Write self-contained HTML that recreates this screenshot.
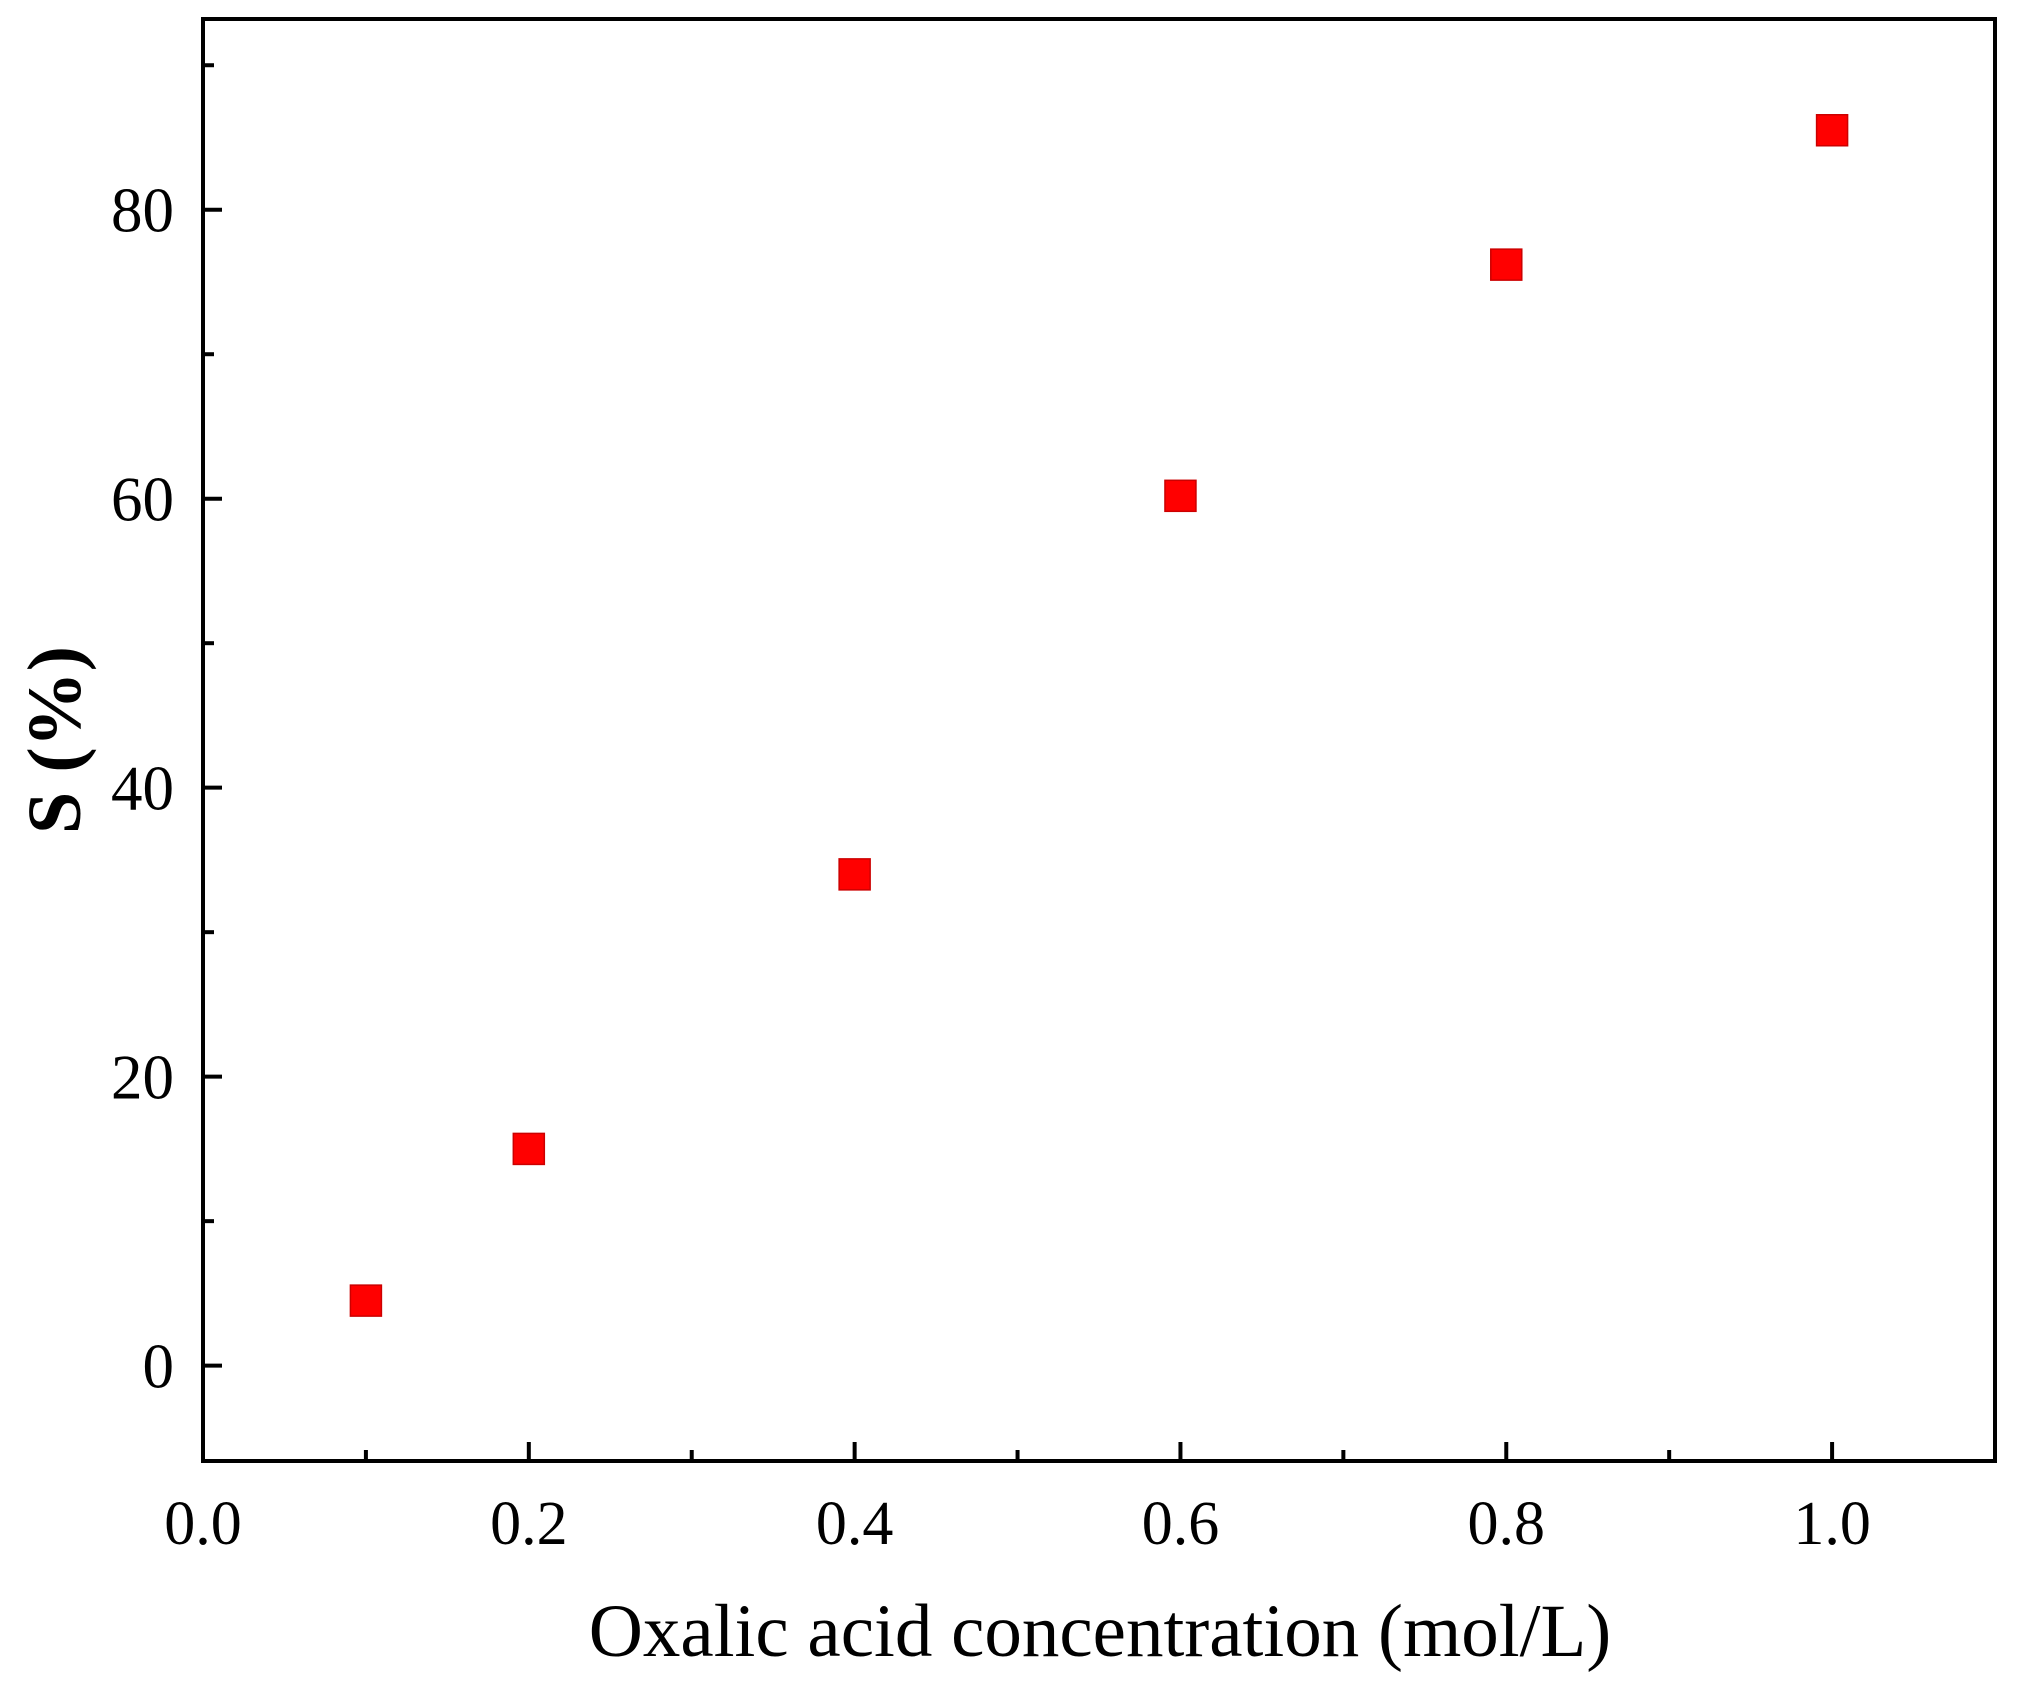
<!DOCTYPE html>
<html><head><meta charset="utf-8"><style>
html,body{margin:0;padding:0;background:#fff;}
svg{display:block;}
text{font-family:"Liberation Serif",serif;fill:#000;}
</style></head><body>
<svg id="chart" width="2018" height="1689" viewBox="0 0 2018 1689" xmlns="http://www.w3.org/2000/svg">
<g id="axes"></g>
<g id="marks"></g>
<text x="1100" y="1656" font-size="75" text-anchor="middle">Oxalic acid concentration (mol/L)</text>
<text transform="translate(80,740) rotate(-90)" font-size="76" font-weight="bold" text-anchor="middle">S (%)</text>
</svg>
<script>
const xValues = [0.1, 0.2, 0.4, 0.6, 0.8, 1.0];
const yValues = [4.5, 15.0, 34.0, 60.2, 76.2, 85.5];
const xTicks = [0, 0.2, 0.4, 0.6, 0.8, 1.0];
const xTickLabels = ["0.0", "0.2", "0.4", "0.6", "0.8", "1.0"];
const yTicks = [0, 20, 40, 60, 80];
const yTickLabels = ["0", "20", "40", "60", "80"];

const L=203,R=1995,T=19,B=1461;
const xMin=0,xMax=1.1,yMin=-6.6,yMax=93.2;
const sx=v=>L+(v-xMin)/(xMax-xMin)*(R-L);
const sy=v=>B-(v-yMin)/(yMax-yMin)*(B-T);
const NS="http://www.w3.org/2000/svg";
const axes=document.getElementById('axes');
const marks=document.getElementById('marks');
function mk(tag,attrs,parent){const e=document.createElementNS(NS,tag);for(const k in attrs)e.setAttribute(k,attrs[k]);parent.appendChild(e);return e;}

const frame=mk('rect',{x:L,y:T,width:R-L,height:B-T,fill:'none',stroke:'#000','stroke-width':4},axes);



for(let i=0;i<=10;i++){
  const v=i*0.1, x=sx(v), major=i%2===0;
  const t=mk('line',{x1:x,x2:x,y1:B,y2:B-(major?19:11),stroke:'#000','stroke-width':4},axes);
  
  
}
xTicks.forEach((v,i)=>{
  const t=mk('text',{x:sx(v),y:1544,'font-size':62,'text-anchor':'middle'},axes);
  t.textContent=xTickLabels[i];
  
  
});
for(let v=0;v<=90;v+=10){
  const y=sy(v), major=v%20===0;
  const t=mk('line',{x1:L,x2:L+(major?19:11),y1:y,y2:y,stroke:'#000','stroke-width':4},axes);
  
  
}
yTicks.forEach((v,i)=>{
  const t=mk('text',{x:174,y:sy(v)+22,'font-size':63,'text-anchor':'end'},axes);
  t.textContent=yTickLabels[i];
  
  
});
xValues.forEach((xv,i)=>{
  const s=31;
  const r=mk('rect',{x:sx(xv)-s/2,y:sy(yValues[i])-s/2,width:s,height:s,fill:'#f00',stroke:'#c00','stroke-width':1.5},marks);
  
  
});
</script>
</body></html>
